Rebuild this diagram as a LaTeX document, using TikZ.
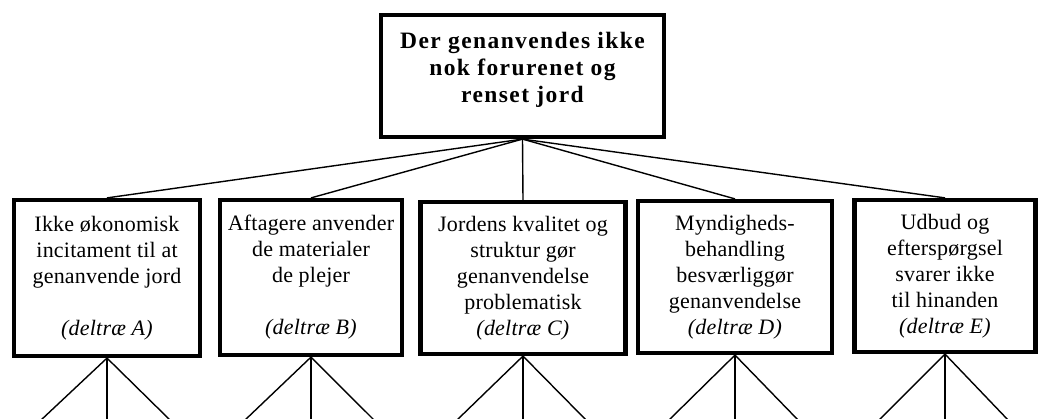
\documentclass[tikz,border=0pt]{standalone}
\usepackage{fontspec}
\setmainfont{Liberation Serif}[LetterSpace=1]
\newfontfamily\headfont{Liberation Serif}[LetterSpace=6]
\usetikzlibrary{calc}
\begin{document}
\begin{tikzpicture}[x=1pt,y=-1pt,
  box/.style={draw, line width=4.2pt, align=center, inner sep=0pt,
    font=\fontsize{22}{26}\selectfont},
  headbox/.style={box, font=\headfont\bfseries\fontsize{23.5}{27}\selectfont},
  link/.style={line width=1.4pt},
]
\useasboundingbox (0,0) rectangle (1039,419);

% root problem
\node[headbox, minimum width=283pt, minimum height=122pt, text depth=17pt] (top) at (522.5,76)
  {Der genanvendes ikke\\nok forurenet og\\renset jord};

% sub-trees
\node[box, minimum width=186pt, minimum height=156pt] (A) at (107,278)
  {Ikke økonomisk\\incitament til at\\genanvende jord\\[26pt]\textit{(deltræ A)}};
\node[box, minimum width=182pt, minimum height=155pt] (B) at (311,277.5)
  {Aftagere anvender\\de materialer\\de plejer\\[26pt]\textit{(deltræ B)}};
\node[box, minimum width=205pt, minimum height=152pt] (C) at (523,278)
  {Jordens kvalitet og\\struktur gør\\genanvendelse\\problematisk\\\textit{(deltræ C)}};
\node[box, minimum width=194pt, minimum height=152pt] (D) at (735,277)
  {Myndigheds-\\behandling\\besværliggør\\genanvendelse\\\textit{(deltræ D)}};
\node[box, minimum width=181pt, minimum height=152pt] (E) at (945,276)
  {Udbud og\\efterspørgsel\\svarer ikke\\til hinanden\\\textit{(deltræ E)}};

% links from the root
\foreach \n in {A,B,C,D,E}
  \draw[link] (top.south) -- (\n.north);

% branches leaving each sub-tree
\foreach \n in {A,B,C,D,E}{
  \coordinate (\n-m) at (\n.south |- 0,421);
  \coordinate (\n-l) at ($(\n-m)+(-67,0)$);
  \coordinate (\n-r) at ($(\n-m)+(64,0)$);
  \draw[link] (\n.south) -- (\n-l);
  \draw[link] (\n.south) -- (\n-m);
  \draw[link] (\n.south) -- (\n-r);
}
\end{tikzpicture}
\end{document}
